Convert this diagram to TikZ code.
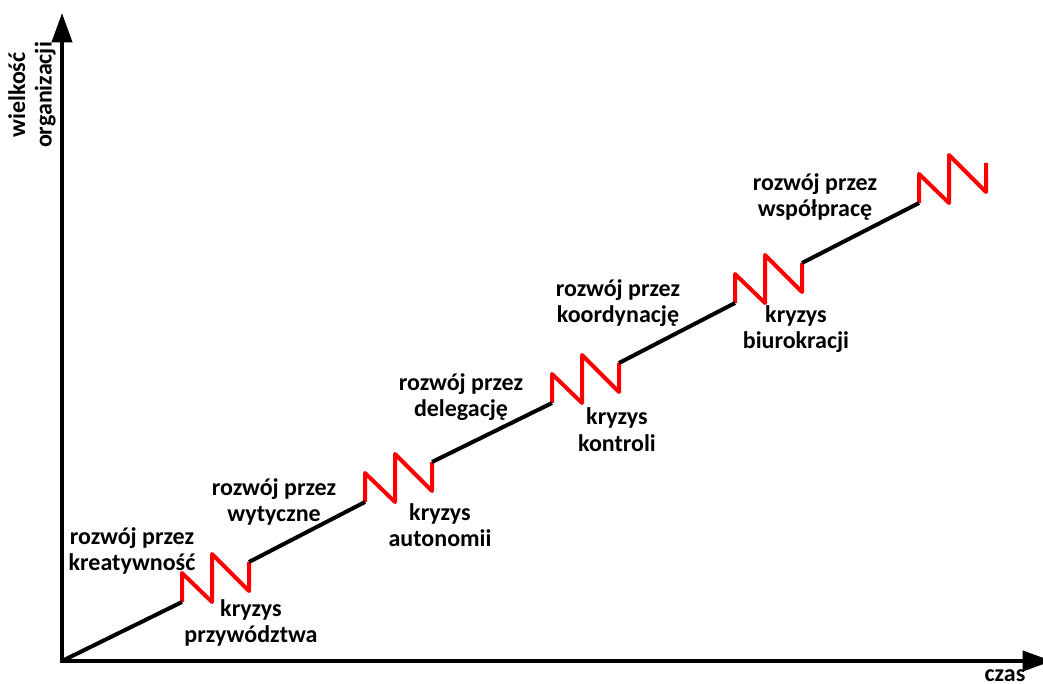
\documentclass[tikz,border=0pt]{standalone}
\usepackage{fontspec}
\setmainfont{Carlito}
\usetikzlibrary{arrows.meta}

\begin{document}
\begin{tikzpicture}[
      x=0.75pt, y=-0.75pt,
      axis/.style={
        line width=3pt, line join=miter,
        {Triangle[length=22pt,width=15pt]}-{Triangle[length=22pt,width=15pt]}
      },
      growth/.style={line width=3pt, black},
      crisis/.style={line width=3pt, red, line join=round},
      txt/.style={font=\fontsize{18}{20}\selectfont\bfseries, align=center, inner sep=0pt}
    ]
      \clip (0,0) rectangle (1043,684);

      % Axes
      \coordinate (O) at (62,661);
      \coordinate (ytop) at (62,13);
      \coordinate (xend) at (1052,661);
      \draw[axis] (ytop) -- (O) -- (xend);

      % Crises (zigzags)
      \foreach \i/\x/\y in {1/182/602, 2/365/502, 3/552/403, 4/735/303, 5/919/203}
        \draw[crisis] (\x,\y) coordinate (z\i) -- ++(0,-29) -- ++(30,29) -- ++(0,-48)
          -- ++(37,37) -- ++(0,-29) coordinate (e\i);

      % Growth phases
      \draw[growth] (O) -- (z1);
      \foreach \i/\j in {1/2, 2/3, 3/4, 4/5}
        \draw[growth] (e\i) -- (z\j);

      % Labels
      \node[txt] (r1) at (132,551) {rozwój przez\\kreatywność};
      \node[txt] (k1) at (251,623) {kryzys\\przywództwa};
      \node[txt] (r2) at (274,502) {rozwój przez\\wytyczne};
      \node[txt] (k2) at (440,525) {kryzys\\autonomii};
      \node[txt] (r3) at (461,397) {rozwój przez\\delegację};
      \node[txt] (k3) at (617,430) {kryzys\\kontroli};
      \node[txt] (r4) at (618,303) {rozwój przez\\koordynację};
      \node[txt] (k4) at (796,329) {kryzys\\biurokracji};
      \node[txt] (r5) at (815,197) {rozwój przez\\współpracę};

      % Axis labels
      \node[txt, rotate=90] (ylab) at (32,95) {wielkość\\organizacji};
      \node[txt, anchor=base] (xlab) at (1005,681) {czas};
    \end{tikzpicture}
\end{document}
